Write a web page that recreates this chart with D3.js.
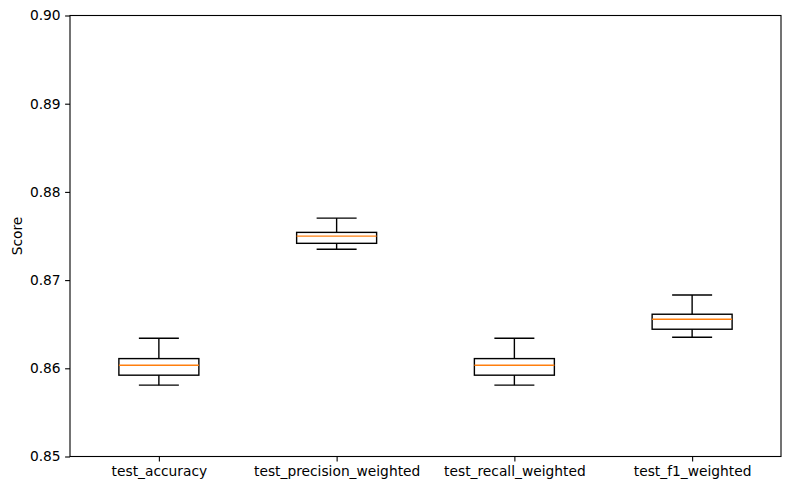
<!DOCTYPE html>
<html>
<head>
<meta charset="utf-8">
<script src="https://cdn.jsdelivr.net/npm/d3@7"></script>
<style>
  body { margin: 0; background: #fff; }
  svg { display: block; font-family: "DejaVu Sans", sans-serif; }
</style>
</head>
<body>
<svg class="chart" width="790" height="490"></svg>
<script>
// metric names on the x axis
const metrics = ["test_accuracy", "test_precision_weighted", "test_recall_weighted", "test_f1_weighted"];
// box statistics
const whiskerLow  = [0.85809, 0.87349, 0.85809, 0.86352];
const quartile1   = [0.85922, 0.87417, 0.85922, 0.86443];
const medians     = [0.86035, 0.87499, 0.86035, 0.86556];
const quartile3   = [0.86110, 0.87541, 0.86110, 0.86613];
const whiskerHigh = [0.86341, 0.87703, 0.86341, 0.86831];
const yTicks = [0.85, 0.86, 0.87, 0.88, 0.89, 0.90];

var svg = d3.select("svg.chart"),
    margin = {top: 15.5, right: 9, bottom: 33.5, left: 70},
    width = parseInt(svg.attr("width")) - margin.left - margin.right,
    height = parseInt(svg.attr("height")) - margin.top - margin.bottom,
    fontSize = 13.8;

var boxes = metrics.map((m, i) => ({
  name: m, pos: i + 1,
  lo: whiskerLow[i], q1: quartile1[i], med: medians[i], q3: quartile3[i], hi: whiskerHigh[i]
}));

// matplotlib positions 1..n with xlim 0.5..n+0.5
var x = d3.scaleLinear().domain([0.5, metrics.length + 0.5]).range([0, width]);
var y = d3.scaleLinear().domain([0.85, 0.90]).range([height, 0]);

var boxW = 0.45, capW = boxW / 2;

let g = svg.append("g").attr("transform", "translate(" + margin.left + "," + margin.top + ")");

var bg = g.selectAll("g.box").data(boxes).enter().append("g").attr("class", "box");

// whiskers
bg.append("line")
  .attr("x1", d => x(d.pos)).attr("x2", d => x(d.pos))
  .attr("y1", d => y(d.q3)).attr("y2", d => y(d.hi))
  .attr("stroke", "black").attr("stroke-width", 1.4);
bg.append("line")
  .attr("x1", d => x(d.pos)).attr("x2", d => x(d.pos))
  .attr("y1", d => y(d.q1)).attr("y2", d => y(d.lo))
  .attr("stroke", "black").attr("stroke-width", 1.4);

// caps
bg.append("line")
  .attr("x1", d => x(d.pos - capW / 2)).attr("x2", d => x(d.pos + capW / 2))
  .attr("y1", d => y(d.hi)).attr("y2", d => y(d.hi))
  .attr("stroke", "black").attr("stroke-width", 1.4);
bg.append("line")
  .attr("x1", d => x(d.pos - capW / 2)).attr("x2", d => x(d.pos + capW / 2))
  .attr("y1", d => y(d.lo)).attr("y2", d => y(d.lo))
  .attr("stroke", "black").attr("stroke-width", 1.4);

// box
bg.append("rect")
  .attr("x", d => x(d.pos - boxW / 2))
  .attr("width", d => x(d.pos + boxW / 2) - x(d.pos - boxW / 2))
  .attr("y", d => y(d.q3))
  .attr("height", d => y(d.q1) - y(d.q3))
  .attr("fill", "none").attr("stroke", "black").attr("stroke-width", 1.4);

// median
bg.append("line")
  .attr("x1", d => x(d.pos - boxW / 2)).attr("x2", d => x(d.pos + boxW / 2))
  .attr("y1", d => y(d.med)).attr("y2", d => y(d.med))
  .attr("stroke", "#ff7f0e").attr("stroke-width", 1.4);

// axes
var yAxis = g.append("g")
  .call(d3.axisLeft(y).tickValues(yTicks).tickFormat(d3.format(".2f")).tickSize(4.9).tickPadding(4.5));
var xAxis = g.append("g")
  .attr("transform", "translate(0," + height + ")")
  .call(d3.axisBottom(x).tickValues(boxes.map(d => d.pos)).tickFormat((d, i) => metrics[i]).tickSize(4.9).tickPadding(4.5));

[yAxis, xAxis].forEach(a => {
  a.selectAll("text").attr("font-size", fontSize).attr("fill", "black").style("font-family", "DejaVu Sans");
  a.selectAll("line").attr("stroke", "black").attr("stroke-width", 1.1);
  a.select(".domain").remove();
});

// frame
g.append("rect")
  .attr("x", 0).attr("y", 0).attr("width", width).attr("height", height)
  .attr("fill", "none").attr("stroke", "black").attr("stroke-width", 1.1);

// y label
g.append("text")
  .attr("transform", "translate(" + (-48) + "," + (height / 2) + ") rotate(-90)")
  .attr("text-anchor", "middle")
  .attr("font-size", fontSize)
  .text("Score");
</script>
</body>
</html>
